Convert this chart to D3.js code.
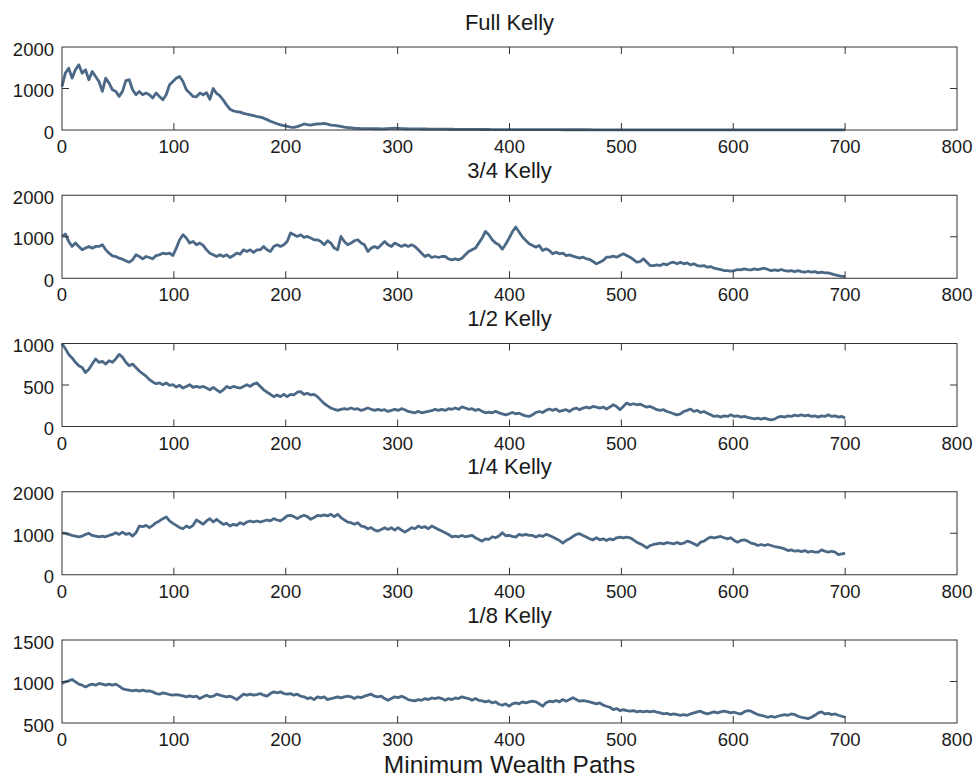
<!DOCTYPE html>
<meta charset="utf-8">
<title>Minimum Wealth Paths</title>
<style>
    body {
        margin: 0;
        background: #fff;
        font-family: "Liberation Sans", Arial, sans-serif;
    }

    .axis-frame {
        fill: none;
        stroke: #333;
        stroke-width: 1;
    }

    .tick-mark {
        stroke: #333;
        stroke-width: 1;
    }

    .tick-label {
        font-size: 18.5px;
        fill: #1a1a1a;
    }

    .panel-title {
        font-size: 22px;
        fill: #1a1a1a;
    }

    .path-line {
        fill: none;
        stroke: #4b6986;
        stroke-width: 2.8;
        stroke-linejoin: round;
    }
</style>

<body>
    <svg width="977" height="778"></svg>

    <script src="https://d3js.org/d3.v7.min.js"></script>
    <script>
        // values sampled every ~3 periods from 0 to 700
        const fullKelly = [
            1048, 1370, 1490, 1250, 1450, 1570, 1370, 1450, 1210, 1410, 1290, 1170, 930, 1250, 1130, 970, 930, 810, 930, 1190,
            1210, 970, 850, 930, 850, 890, 850, 770, 890, 810, 730, 850, 1090, 1170, 1250, 1290, 1170, 970, 890, 810,
            800, 890, 850, 900, 740, 1000, 880, 820, 720, 600, 500, 460, 440, 430, 400, 380, 365, 345, 325, 310,
            285, 250, 210, 180, 150, 125, 105, 90, 70, 65, 80, 110, 145, 130, 120, 135, 145, 150, 160, 140,
            120, 110, 100, 85, 70, 60, 52, 42, 38, 35, 33, 32, 32, 30, 30, 28, 30, 35, 38, 42, 38,
            33, 30, 28, 27, 26, 25, 24, 25, 23, 22, 21, 22, 20, 19, 18, 19, 17, 16, 15, 15,
            14, 14, 13, 13, 12, 12, 12, 11, 11, 11, 10, 10, 10, 9, 9, 9, 9, 8, 8, 8,
            8, 8, 7, 7, 7, 7, 7, 7, 6, 6, 6, 6, 6, 6, 6, 6, 6, 5, 5, 5,
            5, 5, 5, 5, 5, 5, 5, 5, 5, 4, 4, 4, 4, 4, 4, 4, 4, 4, 4, 4,
            4, 4, 4, 4, 4, 4, 4, 4, 3, 3, 3, 3, 3, 3, 3, 3, 3, 3, 3, 3,
            3, 3, 3, 3, 3, 3, 3, 3, 3, 3, 3, 3, 3, 3, 3, 3, 3, 2, 2, 2,
            2, 2, 2, 2, 2, 2, 2, 2, 2, 2, 2, 2, 2
        ];

        const threeQuarterKelly = [
            1008, 1065, 887, 766, 847, 766, 685, 726, 766, 726, 766, 766, 806, 685, 605, 540, 524, 484, 460, 419,
            387, 444, 565, 524, 468, 524, 500, 468, 548, 565, 605, 589, 605, 548, 726, 927, 1048, 968, 847, 887,
            806, 847, 790, 685, 605, 565, 524, 565, 524, 565, 500, 548, 605, 580, 685, 645, 685, 621, 685, 685,
            766, 685, 645, 766, 806, 766, 806, 887, 1089, 1048, 1008, 1048, 984, 1008, 968, 927, 927, 887, 806, 903,
            847, 726, 685, 1008, 887, 806, 847, 903, 927, 847, 806, 645, 726, 766, 726, 806, 887, 806, 766, 847,
            806, 766, 806, 766, 806, 766, 685, 605, 524, 565, 500, 524, 500, 524, 524, 468, 444, 468, 444, 484,
            565, 645, 685, 726, 847, 968, 1129, 1048, 927, 847, 806,
            700, 820, 960, 1120, 1234, 1113, 992, 911, 831, 790, 750, 790, 669, 710, 669, 589, 629, 589, 605, 548,
            564, 532, 508, 484, 508, 468, 452, 403, 347, 387, 427, 508, 508, 532, 508, 548, 589, 548, 508, 452,
            387, 403, 468, 387, 306, 306, 323, 306, 347, 323, 371, 387, 347, 387, 347, 371, 323, 347, 306, 290,
            306, 266, 282, 242, 226, 210, 185, 185, 169, 185, 210, 202, 226, 210, 202, 226, 210, 226, 242, 210,
            185, 202, 185, 210, 185, 169, 185, 161, 185, 161, 145, 169, 145, 161, 129, 145, 129, 129, 105, 81,
            65, 45, 45
        ];

        const halfKelly = [
            1000, 938, 868, 826, 773, 731, 711, 649, 690, 752, 814, 773, 785, 752, 793, 773, 814, 868, 835, 773,
            731, 752, 711, 669, 636, 607, 566, 537, 516, 525, 504, 525, 496, 504, 475, 496, 463, 483, 504, 471,
            483, 471, 483, 463, 442, 471, 442, 413, 442, 483, 463, 483, 471, 463, 483, 504, 483, 512, 525, 483,
            442, 413, 388, 360, 380, 360, 388, 360, 388, 380, 413, 421, 388, 401, 380, 388, 360, 318, 277, 248,
            223, 207, 194, 207, 215, 207, 223, 207, 215, 194, 207, 223, 207, 194, 207, 194, 202, 182, 194, 207,
            194, 215, 202, 182, 174, 165, 182, 165, 174, 182, 190, 207, 194, 207, 194, 215, 207, 223, 207, 236,
            223, 207, 215, 194, 207, 182, 165, 174, 165, 182, 165,
            153, 141, 153, 169, 153, 161, 141, 129, 121, 141, 169, 181, 169, 194, 210, 194, 210, 181, 194, 202,
            181, 210, 222, 202, 222, 234, 222, 242, 234, 222, 234, 210, 234, 262, 242, 202, 242, 282, 262, 274,
            262, 270, 250, 234, 242, 222, 202, 194, 202, 181, 169, 153, 141, 153, 181, 194, 210, 181, 194, 169,
            181, 161, 141, 121, 129, 113, 129, 121, 141, 121, 129, 113, 121, 109, 101, 93, 101, 89, 101, 89,
            81, 89, 113, 121, 113, 129, 121, 137, 129, 141, 129, 137, 121, 129, 113, 129, 121, 141, 121, 129,
            113, 121, 101
        ];

        const quarterKelly = [
            1012, 996, 972, 947, 931, 915, 931, 972, 996, 947, 931, 915, 931, 915, 947, 972, 1012, 972, 1028, 972,
            996, 931, 1012, 1174, 1158, 1190, 1134, 1190, 1255, 1296, 1352, 1393, 1296, 1239, 1190, 1134, 1109, 1174, 1134, 1190,
            1320, 1271, 1215, 1296, 1352, 1271, 1336, 1271, 1215, 1239, 1174, 1215, 1190, 1255, 1215, 1271, 1296, 1271, 1296, 1271,
            1296, 1320, 1296, 1352, 1320, 1296, 1352, 1417, 1433, 1401, 1352, 1401, 1433, 1401, 1336, 1377, 1433, 1417, 1441, 1417,
            1457, 1401, 1457, 1377, 1320, 1271, 1255, 1215, 1255, 1174, 1158, 1109, 1134, 1077, 1053, 1093, 1134, 1093, 1134, 1077,
            1134, 1077, 1028, 1077, 1134, 1109, 1174, 1134, 1158, 1109, 1174, 1134, 1093, 1053, 1012, 972, 915, 931, 915, 947,
            915, 931, 947, 891, 850, 810, 866, 850, 915, 891, 931, 1012,
            940, 947, 923, 907, 972, 947, 972, 947, 947, 907, 947, 923, 972, 947, 907, 866, 826, 761, 826, 866,
            923, 972, 988, 947, 907, 866, 842, 891, 842, 866, 826, 866, 842, 891, 907, 891, 907, 891, 842, 785,
            745, 704, 648, 704, 729, 745, 761, 745, 777, 761, 745, 777, 745, 761, 810, 785, 745, 704, 785, 810,
            866, 907, 891, 907, 923, 891, 866, 891, 826, 785, 826, 842, 810, 761, 745, 704, 729, 704, 729, 704,
            680, 664, 648, 623, 583, 599, 567, 583, 559, 583, 543, 567, 543, 543, 599, 567, 543, 567, 543, 486,
            502, 518
        ];

        const eighthKelly = [
            976, 996, 1008, 1024, 996, 968, 956, 935, 956, 968, 956, 976, 968, 956, 968, 956, 968, 944, 915, 903,
            895, 887, 895, 883, 895, 883, 887, 875, 855, 847, 863, 855, 843, 835, 843, 835, 827, 815, 827, 815,
            823, 794, 815, 835, 815, 823, 847, 835, 823, 815, 823, 806, 782, 815, 847, 835, 847, 835, 843, 855,
            835, 823, 855, 875, 863, 875, 855, 847, 855, 835, 847, 823, 815, 794, 806, 782, 815, 802, 815, 782,
            794, 802, 815, 802, 815, 823, 815, 794, 815, 806, 823, 835, 847, 823, 815, 823, 794, 774, 794, 815,
            806, 823, 806, 782, 774, 766, 782, 774, 794, 782, 802, 794, 806, 794, 774, 794, 782, 802, 794, 815,
            802, 794, 774, 794, 774, 766, 754, 766, 742, 754, 726, 714,
            731, 702, 731, 743, 731, 755, 743, 755, 763, 755, 731, 702, 743, 763, 755, 771, 755, 783, 763, 783,
            804, 783, 763, 771, 763, 755, 743, 731, 743, 715, 702, 690, 662, 674, 650, 662, 650, 642, 650, 634,
            642, 634, 642, 634, 642, 630, 621, 609, 617, 601, 609, 601, 593, 601, 593, 609, 621, 634, 642, 621,
            609, 621, 634, 621, 634, 642, 634, 621, 630, 617, 609, 634, 650, 642, 621, 601, 593, 581, 569, 581,
            569, 581, 593, 601, 593, 609, 601, 581, 569, 561, 553, 569, 593, 621, 634, 609, 617, 601, 609, 593,
            581, 569
        ];

        const panelTitles = ["Full Kelly", "3/4 Kelly", "1/2 Kelly", "1/4 Kelly", "1/8 Kelly"];
        const panelSeries = [fullKelly, threeQuarterKelly, halfKelly, quarterKelly, eighthKelly];
        const yDomains = [[0, 2000], [0, 2000], [0, 1000], [0, 2000], [500, 1500]];
        const yTicks = [[0, 1000, 2000], [0, 1000, 2000], [0, 500, 1000], [0, 1000, 2000], [500, 1000, 1500]];
        const xTicks = [0, 100, 200, 300, 400, 500, 600, 700, 800];
        const xLabel = "Minimum Wealth Paths";

        const svg = d3.select("svg");
        const left = 62, right = 957;
        const firstTop = 47, panelGap = 148.25, panelH = 83;
        const tickLen = 7;

        const x = d3.scaleLinear().domain([0, 800]).range([left, right]);

        panelSeries.forEach((series, i) => {
            const top = firstTop + i * panelGap;
            const bottom = top + panelH;
            const y = d3.scaleLinear().domain(yDomains[i]).range([bottom, top]);
            const g = svg.append("g");

            // title
            g.append("text")
                .attr("class", "panel-title")
                .attr("x", (left + right) / 2)
                .attr("y", top - 17.5)
                .attr("text-anchor", "middle")
                .text(panelTitles[i]);

            // the wealth path
            const n = series.length;
            const line = d3.line()
                .x((d, j) => x(j * 700 / (n - 1)))
                .y(d => y(d));
            g.append("path")
                .datum(series)
                .attr("class", "path-line")
                .attr("d", line);

            // box
            g.append("rect")
                .attr("class", "axis-frame")
                .attr("x", left)
                .attr("y", top)
                .attr("width", right - left)
                .attr("height", panelH);

            // x ticks, inward on bottom and top
            const inner = xTicks.slice(1, -1);
            g.selectAll(".xb").data(inner).join("line")
                .attr("class", "tick-mark")
                .attr("x1", d => x(d)).attr("x2", d => x(d))
                .attr("y1", bottom).attr("y2", bottom - tickLen);
            g.selectAll(".xt").data(inner).join("line")
                .attr("class", "tick-mark")
                .attr("x1", d => x(d)).attr("x2", d => x(d))
                .attr("y1", top).attr("y2", top + tickLen);

            g.selectAll(".xl").data(xTicks).join("text")
                .attr("class", "tick-label")
                .attr("x", d => x(d))
                .attr("y", bottom + 23)
                .attr("text-anchor", "middle")
                .text(d => d);

            // y ticks, inward on left and right
            const midTicks = yTicks[i].slice(1, -1);
            g.selectAll(".yl").data(midTicks).join("line")
                .attr("class", "tick-mark")
                .attr("x1", left).attr("x2", left + tickLen)
                .attr("y1", d => y(d)).attr("y2", d => y(d));
            g.selectAll(".yr").data(midTicks).join("line")
                .attr("class", "tick-mark")
                .attr("x1", right).attr("x2", right - tickLen)
                .attr("y1", d => y(d)).attr("y2", d => y(d));

            g.selectAll(".ytl").data(yTicks[i]).join("text")
                .attr("class", "tick-label")
                .attr("x", left - 8)
                .attr("y", d => y(d) + 8.5)
                .attr("text-anchor", "end")
                .text(d => d);
        });

        svg.append("text")
            .attr("x", (left + right) / 2)
            .attr("y", 772.5)
            .attr("text-anchor", "middle")
            .style("font-size", "24.5px")
            .style("fill", "#1a1a1a")
            .text(xLabel);
    </script>
</body>

</html>
